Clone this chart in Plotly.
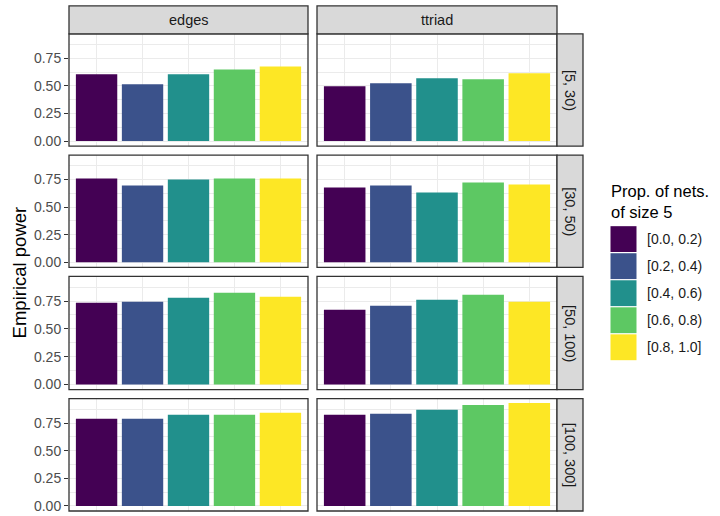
import plotly.graph_objects as go

# ---- data ----
terms = ["edges", "ttriad"]
size_bins = ["[5, 30)", "[30, 50)", "[50, 100)", "[100, 300]"]
prop_bins = ["[0.0, 0.2)", "[0.2, 0.4)", "[0.4, 0.6)", "[0.6, 0.8)", "[0.8, 1.0]"]
colors = ["#440154", "#3B528B", "#21908C", "#5DC863", "#FDE725"]

edges_5_30 = [0.604, 0.515, 0.604, 0.649, 0.676]
edges_30_50 = [0.759, 0.696, 0.750, 0.759, 0.759]
edges_50_100 = [0.735, 0.744, 0.780, 0.825, 0.789]
edges_100_300 = [0.789, 0.789, 0.825, 0.825, 0.843]
ttriad_5_30 = [0.497, 0.524, 0.569, 0.560, 0.613]
ttriad_30_50 = [0.678, 0.696, 0.633, 0.723, 0.705]
ttriad_50_100 = [0.672, 0.708, 0.762, 0.807, 0.744]
ttriad_100_300 = [0.825, 0.834, 0.870, 0.915, 0.932]

panel_values = {
    ("edges", 0): edges_5_30, ("edges", 1): edges_30_50,
    ("edges", 2): edges_50_100, ("edges", 3): edges_100_300,
    ("ttriad", 0): ttriad_5_30, ("ttriad", 1): ttriad_30_50,
    ("ttriad", 2): ttriad_50_100, ("ttriad", 3): ttriad_100_300,
}

y_ticks = [0.0, 0.25, 0.5, 0.75]
y_tick_text = ["0.00", "0.25", "0.50", "0.75"]
y_minor = [0.125, 0.375, 0.625, 0.875]

W, H = 720, 516
def fx(p):
    return p / W
def fy(p):
    return 1 - p / H

col_px = [(69, 308), (317, 557)]
row_px = [(34, 147), (156, 269), (278, 392), (401, 514)]
strip_top = 6
right_strip = (557, 583)

BORDER = "#333333"
GRID = "#EBEBEB"
STRIP_BG = "#D9D9D9"
SANS = "Liberation Sans, Arial, sans-serif"
TICK_FONT = dict(family=SANS, size=14, color="#4D4D4D")
STRIP_FONT = dict(family=SANS, size=14.5, color="#1A1A1A")

ymax = 0.925
yrange = [-0.05 * ymax, 1.05 * ymax]

fig = go.Figure()
shapes = []
annotations = []
layout_axes = {}

n = 0
for r, rb in enumerate(size_bins):
    for c, term in enumerate(terms):
        n += 1
        xa = "x" if n == 1 else f"x{n}"
        ya = "y" if n == 1 else f"y{n}"
        vals = panel_values[(term, r)]
        fig.add_trace(go.Bar(
            x=prop_bins, y=vals, marker=dict(color=colors, line=dict(width=0)),
            width=0.9, xaxis=xa, yaxis=ya, showlegend=False,
            hovertemplate="%{x}: %{y:.3f}<extra></extra>",
        ))
        xkey = "xaxis" if n == 1 else f"xaxis{n}"
        ykey = "yaxis" if n == 1 else f"yaxis{n}"
        layout_axes[xkey] = dict(
            domain=[fx(col_px[c][0]), fx(col_px[c][1])], anchor=ya,
            type="category", categoryorder="array", categoryarray=prop_bins,
            range=[-0.6, 4.6], showticklabels=False, ticks="",
            showgrid=True, gridcolor=GRID, gridwidth=1.1, zeroline=False,
            showline=False, fixedrange=True,
        )
        layout_axes[ykey] = dict(
            domain=[fy(row_px[r][1]), fy(row_px[r][0])], anchor=xa,
            range=yrange, tickmode="array", tickvals=y_ticks, ticktext=y_tick_text,
            showticklabels=(c == 0), ticks="outside" if c == 0 else "",
            ticklen=4, tickwidth=1.1, tickcolor=BORDER, tickfont=TICK_FONT,
            showgrid=True, gridcolor=GRID, gridwidth=1.1, zeroline=False,
            minor=dict(tickmode="array", tickvals=y_minor, showgrid=True,
                       gridcolor=GRID, gridwidth=0.55, ticks=""),
            showline=False, fixedrange=True,
        )
        shapes.append(dict(type="rect", xref=f"{xa} domain", yref=f"{ya} domain",
                           x0=0, x1=1, y0=0, y1=1, line=dict(color=BORDER, width=1.3),
                           fillcolor="rgba(0,0,0,0)", layer="above"))

# top strips
for c, term in enumerate(terms):
    shapes.append(dict(type="rect", xref="paper", yref="paper",
                       x0=fx(col_px[c][0]), x1=fx(col_px[c][1]),
                       y0=fy(row_px[0][0]), y1=fy(strip_top),
                       fillcolor=STRIP_BG, line=dict(color=BORDER, width=1.3), layer="above"))
    annotations.append(dict(xref="paper", yref="paper",
                            x=fx((col_px[c][0] + col_px[c][1]) / 2),
                            y=fy((strip_top + row_px[0][0]) / 2),
                            text=term, showarrow=False, font=STRIP_FONT,
                            xanchor="center", yanchor="middle"))

# right strips
for r, rb in enumerate(size_bins):
    shapes.append(dict(type="rect", xref="paper", yref="paper",
                       x0=fx(right_strip[0]), x1=fx(right_strip[1]),
                       y0=fy(row_px[r][1]), y1=fy(row_px[r][0]),
                       fillcolor=STRIP_BG, line=dict(color=BORDER, width=1.3), layer="above"))
    annotations.append(dict(xref="paper", yref="paper",
                            x=fx((right_strip[0] + right_strip[1]) / 2),
                            y=fy((row_px[r][0] + row_px[r][1]) / 2),
                            text=rb, textangle=90, showarrow=False, font=STRIP_FONT,
                            xanchor="center", yanchor="middle"))

# y axis title
annotations.append(dict(xref="paper", yref="paper", x=fx(19), y=fy(274),
                        text="Empirical power", textangle=-90, showarrow=False,
                        font=dict(family=SANS, size=18.5, color="#000000"),
                        xanchor="center", yanchor="middle"))

# legend (manual, built from the category / colour lists)
leg_x0 = 610.5
key = 26
pitch = 27.2
key_top0 = 227.5
annotations.append(dict(xref="paper", yref="paper", x=fx(leg_x0 - 2), y=fy(181),
                        text="Prop. of nets.<br>of size 5", showarrow=False, align="left",
                        font=dict(family=SANS, size=16.5, color="#000000"),
                        xanchor="left", yanchor="top"))
for i, (lab, col) in enumerate(zip(prop_bins, colors)):
    top = key_top0 + i * pitch
    shapes.append(dict(type="rect", xref="paper", yref="paper",
                       x0=fx(leg_x0), x1=fx(leg_x0 + key), y0=fy(top + key), y1=fy(top),
                       fillcolor=col, line=dict(width=0)))
    annotations.append(dict(xref="paper", yref="paper", x=fx(645), y=fy(top + key / 2),
                            text=lab, showarrow=False,
                            font=dict(family=SANS, size=14, color="#1A1A1A"),
                            xanchor="left", yanchor="middle"))

fig.update_layout(
    width=W, height=H, autosize=False,
    margin=dict(l=0, r=0, t=0, b=0),
    paper_bgcolor="white", plot_bgcolor="white",
    shapes=shapes, annotations=annotations, bargap=0.1,
    showlegend=False,
    **layout_axes,
)

fig.write_html("out.html", config={"displayModeBar": False},
               post_script="document.body.style.margin='0px';document.body.style.padding='0px';")
